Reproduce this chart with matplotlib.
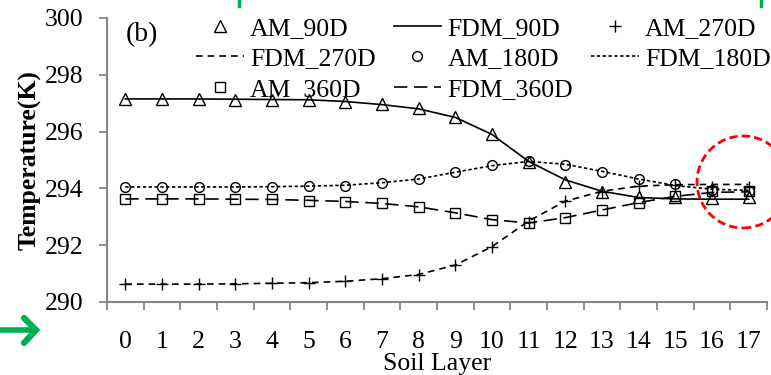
import matplotlib
matplotlib.use('Agg')
import numpy as np
import matplotlib.pyplot as plt
from matplotlib.lines import Line2D
from matplotlib.patches import Ellipse

plt.rcParams['font.family'] = ['Liberation Serif', 'DejaVu Serif']

layers = list(range(18))
am_90d = [297.15, 297.15, 297.15, 297.1, 297.1, 297.1, 297.05, 296.97, 296.83, 296.5,
          295.9, 294.93, 294.23, 293.87, 293.7, 293.68, 293.67, 293.68]
fdm_90d = [297.15, 297.15, 297.15, 297.14, 297.13, 297.12, 297.06, 296.95, 296.8, 296.5,
           295.9, 294.95, 294.3, 293.9, 293.68, 293.63, 293.62, 293.62]
am_270d = [290.63, 290.63, 290.63, 290.63, 290.67, 290.67, 290.74, 290.82, 290.95, 291.3,
           291.94, 292.82, 293.56, 293.87, 294.1, 294.12, 294.05, 294.05]
fdm_270d = [290.63, 290.63, 290.63, 290.64, 290.66, 290.68, 290.73, 290.82, 290.97, 291.3,
            291.95, 292.85, 293.55, 293.9, 294.08, 294.13, 294.14, 294.14]
am_180d = [294.05, 294.05, 294.05, 294.05, 294.05, 294.08, 294.1, 294.2, 294.33, 294.57,
           294.82, 294.96, 294.83, 294.57, 294.33, 294.15, 293.95, 293.9]
fdm_180d = [294.05, 294.05, 294.05, 294.05, 294.06, 294.08, 294.11, 294.2, 294.33, 294.57,
            294.8, 294.95, 294.85, 294.6, 294.33, 294.1, 293.97, 293.93]
am_360d = [293.63, 293.63, 293.63, 293.63, 293.63, 293.57, 293.53, 293.48, 293.36, 293.15,
           292.89, 292.79, 292.97, 293.24, 293.5, 293.73, 293.92, 293.9]
fdm_360d = [293.63, 293.63, 293.63, 293.62, 293.61, 293.58, 293.54, 293.47, 293.35, 293.14,
            292.9, 292.78, 292.97, 293.24, 293.5, 293.72, 293.86, 293.88]

fig = plt.figure(figsize=(7.71, 3.75), dpi=100)
ax = fig.add_axes([107/771, 1-302/375, 660/771, 284/375])

fs = 18.5
mk = dict(linestyle='none', color='black', markerfacecolor='none', markeredgewidth=1.0)
h1, = ax.plot(layers, am_90d, marker='^', markersize=8.5, label='AM_90D', **mk)
h2, = ax.plot(layers, fdm_90d, color='black', lw=1.2, label='FDM_90D')
h3, = ax.plot(layers, am_270d, marker='+', markersize=9, label='AM_270D', **mk)
h4, = ax.plot(layers, fdm_270d, color='black', lw=1.2, linestyle=(0, (4, 3)), label='FDM_270D')
h5, = ax.plot(layers, am_180d, marker='o', markersize=7, label='AM_180D', **mk)
h6, = ax.plot(layers, fdm_180d, color='black', lw=1.2, linestyle=(0, (2, 1.5)), label='FDM_180D')
h7, = ax.plot(layers, am_360d, marker='s', markersize=7, label='AM_360D', **mk)
h8, = ax.plot(layers, fdm_360d, color='black', lw=1.2, linestyle=(0, (8, 4)), label='FDM_360D')

ax.set_xlim(-0.5, 17.5)
ax.set_ylim(290, 300)
ax.set_yticks([290, 292, 294, 296, 298, 300])
ax.set_xticks(layers)
ax.set_xticks(np.arange(-0.5, 18, 1), minor=True)
ax.tick_params(axis='x', which='major', length=0, pad=21, labelsize=fs)
ax.tick_params(axis='x', which='minor', length=6, width=1.3, color='#868686', direction='out')
ax.tick_params(axis='y', length=6, width=1.3, color='#868686', pad=11, labelsize=fs)
for s in ['top', 'right']:
    ax.spines[s].set_visible(False)
for s in ['left', 'bottom']:
    ax.spines[s].set_color('#868686')
    ax.spines[s].set_linewidth(1.5)

ax.set_ylabel('Temperature(K)', fontsize=fs, fontweight='bold', labelpad=2)
ax.set_xlabel('Soil Layer', fontsize=fs, labelpad=0)

fig.text(126/771, 1-35/375, '(b)', fontsize=20, va='center', ha='left')

order = [h1, h4, h7, h2, h5, h8, h3, h6]
leg = fig.legend(handles=order, labels=[h.get_label() for h in order], ncol=3,
                 loc='upper left', bbox_to_anchor=(196/771, 1-17/375), frameon=False,
                 fontsize=fs, handlelength=1.85, handletextpad=0.25, columnspacing=0.7,
                 labelspacing=0.29, borderpad=0, borderaxespad=0)

# annotation marks
green = '#00b050'
fig.add_artist(Line2D([0/771, 34/771], [1-330/375, 1-330/375], color=green, lw=4, solid_capstyle='round'))
fig.add_artist(Line2D([24/771, 36/771, 24/771], [1-318/375, 1-330/375, 1-343/375], color=green, lw=4.5,
                      solid_capstyle='round', solid_joinstyle='miter'))
fig.add_artist(Line2D([239/771, 239/771], [1, 1-6/375], color=green, lw=2.5))
fig.add_artist(Line2D([761/771, 761/771], [1, 1-6/375], color=green, lw=2.5))
fig.add_artist(Ellipse((743/771, 1-182/375), 92/771, 92/375, transform=fig.transFigure,
                       fill=False, edgecolor='#ff0000', lw=2, linestyle=(0, (3, 1.5))))

fig.savefig('out.png', dpi=100)
